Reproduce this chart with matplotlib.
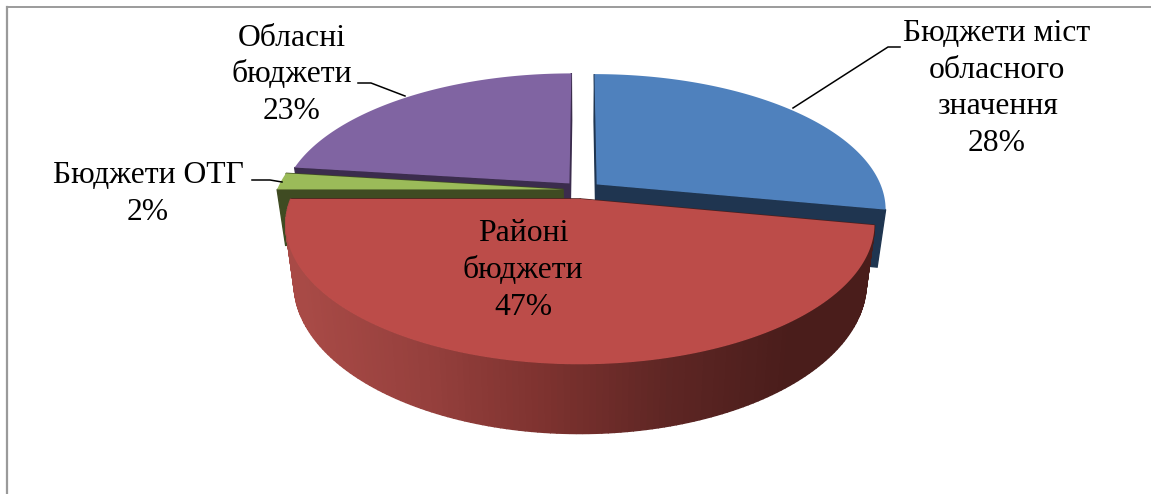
import numpy as np
import matplotlib
matplotlib.use("Agg")
import matplotlib.pyplot as plt
from matplotlib.patches import Polygon
from matplotlib.colors import LinearSegmentedColormap

# data, clockwise from 12 o'clock
names = ["Бюджети міст\nобласного\nзначення", "Районі\nбюджети", "Бюджети ОТГ", "Обласні\nбюджети"]
values = [28, 47, 2, 23]
top_colors = ["#4f81bd", "#bc4c49", "#9bbb59", "#8064a2"]
side_colors = ["#1f3550", "#4c1e1c", "#3f4b22", "#3b2c4d"]

# pie geometry in pixels
cx, cy = 582, 190
a, b = 286, 132
persp = 0.18
depth = 56
shrink = 0.028  # bottom of the pie is a bit narrower than the top
explode = 0.067

red_side = LinearSegmentedColormap.from_list("red_side", ["#a84a46", "#96403d", "#7d322f", "#5e2624", "#4a1d1b"])


def project(theta, r, off, z=0):
    u = r * np.sin(theta) + off[0]
    v = r * np.cos(theta) + off[1]
    s = 1 / (1 + persp * v)
    return cx + a * u * s * (1 - shrink * z), cy - b * v * s + depth * z * s


def face(ax, pts, color, z):
    ax.add_patch(Polygon(pts, closed=True, facecolor=color, edgecolor=color, lw=1.0, zorder=z))


fig = plt.figure(figsize=(11.51, 4.94), dpi=100)
ax = fig.add_axes([0, 0, 1, 1])
ax.set_xlim(0, 1151)
ax.set_ylim(494, 0)
ax.axis("off")

plt.rcParams["font.family"] = ["Liberation Serif", "DejaVu Serif"]

# frame (only top and left are in the crop)
ax.plot([7, 1151], [7, 7], color="#8a8a8a", lw=1.2, zorder=1)
ax.plot([7, 7], [7, 494], color="#9a9a9a", lw=1.6, zorder=1)

ends = np.cumsum(values) / sum(values) * 2 * np.pi
starts = np.r_[0, ends[:-1]]

# back slices first, red goes on top
for order, i in enumerate([3, 2, 0, 1]):
    t0, t1 = starts[i], ends[i]
    mid = (t0 + t1) / 2
    off = (explode * np.sin(mid), explode * np.cos(mid))
    z = 2 + order
    apex = project(0, 0, off)
    apex_low = project(0, 0, off, 1)
    for t in (t0, t1):
        face(ax, [apex, project(t, 1, off), project(t, 1, off, 1), apex_low], side_colors[i], z)
    th = np.linspace(t0, t1, 160)
    # only the red slice shows a rim, the blue one would poke out at the right
    if i == 1:
        for p, q in zip(th[:-1], th[1:]):
            x = project((p + q) / 2, 1, off)[0]
            col = red_side(np.clip((x - 300) / 490, 0, 1))
            face(ax, [project(p, 1, off), project(q, 1, off), project(q, 1, off, 1), project(p, 1, off, 1)], col, z)
    top = [apex] + [project(t, 1, off) for t in th]
    ax.add_patch(Polygon(top, closed=True, facecolor=top_colors[i], edgecolor="none", zorder=z))

# leader lines
leader_x = [[793, 888, 900], [405, 371, 358], [282, 270, 252]]
leader_y = [[108, 47, 47], [96, 83, 83], [182, 180, 180]]
for lx, ly in zip(leader_x, leader_y):
    ax.plot(lx, ly, color="black", lw=1.1, zorder=10)

# labels
label_x = [997, 523, 148, 292]
label_y = [88.5, 270.5, 194, 75]
for name, v, x, y in zip(names, values, label_x, label_y):
    ax.text(x, y, f"{name}\n{v}%", ha="center", va="center", fontsize=22.8,
            linespacing=1.36, color="black", zorder=11)

fig.savefig("out.png", dpi=100)
